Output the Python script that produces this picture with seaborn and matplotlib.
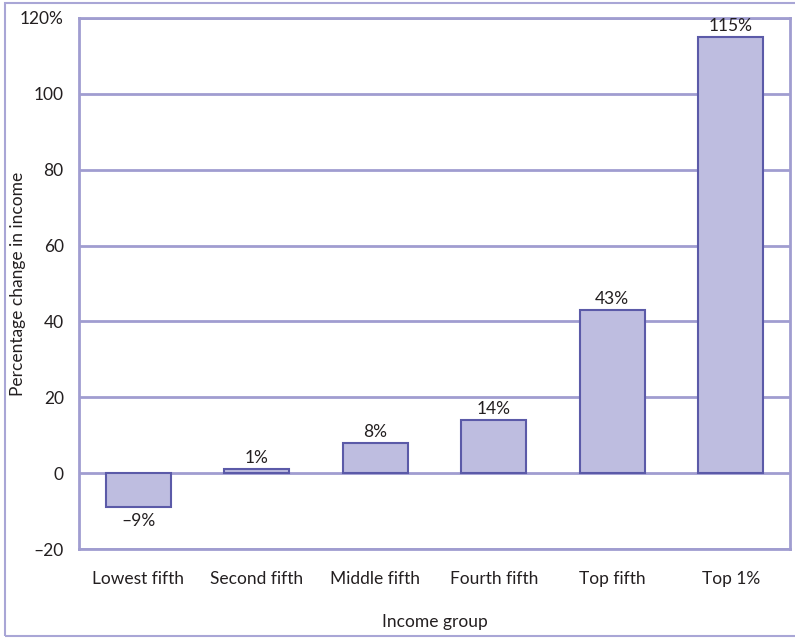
import pandas as pd
import matplotlib.pyplot as plt
import seaborn as sns
from matplotlib.patches import Rectangle

# values
groups = ["Lowest fifth", "Second fifth", "Middle fifth", "Fourth fifth", "Top fifth", "Top 1%"]
change = [-9, 1, 8, 14, 43, 115]
labels = ["\u20139%", "1%", "8%", "14%", "43%", "115%"]
yticks = [-20, 0, 20, 40, 60, 80, 100, 120]
ytick_labels = ["\u201320", "0", "20", "40", "60", "80", "100", "120%"]

df = pd.DataFrame({"group": groups, "change": change})

sns.set_style("white")
plt.rcParams["font.family"] = ["Lato", "DejaVu Sans"]

grid_col = "#a09dd0"
text_col = "#231f20"

fig = plt.figure(figsize=(7.95, 6.39), dpi=100)
ax = fig.add_axes([79 / 795, 1 - 549 / 639, 711 / 795, 531 / 639])

sns.barplot(data=df, x="group", y="change", ax=ax, color="#bebde0",
            edgecolor="#5b5aa8", linewidth=1.5, width=0.55, saturation=1, zorder=3)

ax.set_ylim(-20, 120)
ax.set_yticks(yticks)
ax.set_yticklabels(ytick_labels)
ax.yaxis.grid(True, color=grid_col, linewidth=2)
ax.set_axisbelow(True)
for s in ax.spines.values():
    s.set_color(grid_col)
    s.set_linewidth(2)

ax.tick_params(axis="y", length=9, width=2, color=grid_col, labelsize=12.5, labelcolor=text_col, pad=2)
ax.tick_params(axis="x", length=0, labelsize=12.5, labelcolor=text_col, pad=16)

for i, (v, lab) in enumerate(zip(change, labels)):
    if v < 0:
        ax.text(i, v - 1.5, lab, ha="center", va="top", fontsize=12.5, color=text_col)
    else:
        ax.text(i, v + 0.8, lab, ha="center", va="bottom", fontsize=12.5, color=text_col)

ax.set_xlabel("Income group", fontsize=12.5, color=text_col)
ax.set_ylabel("Percentage change in income", fontsize=12.5, color=text_col)
ax.xaxis.set_label_coords(0.5, -(622 - 549) / 531)
ax.yaxis.set_label_coords(-(79 - 18) / 711, 0.5)
ax.xaxis.label.set_va("center")
ax.yaxis.label.set_va("center")

fig.patches.append(Rectangle((5 / 795, 3 / 639), 800 / 795, 633 / 639, transform=fig.transFigure,
                             fill=False, edgecolor="#a9a6d6", linewidth=1.5))

fig.savefig("out.png", dpi=100)
